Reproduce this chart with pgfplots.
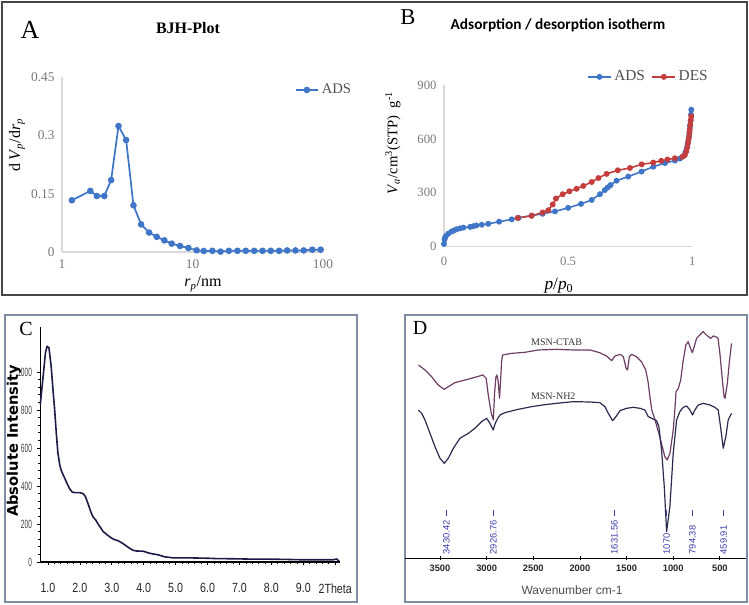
\documentclass[border=0pt]{standalone}
\usepackage{fontspec}
\setmainfont{Liberation Serif}
\newfontfamily\arial{Liberation Sans}
\newfontfamily\carlito{Carlito}
\newfontfamily\dejavu{DejaVu Sans}
\usepackage{graphicx}
\usepackage{pgfplots}
\pgfplotsset{compat=1.18}
\definecolor{xlblue}{RGB}{64,118,200}
\definecolor{xlred}{RGB}{196,62,62}
\definecolor{axgray}{RGB}{217,217,217}
\definecolor{tkgray}{RGB}{120,120,120}
\definecolor{lgtext}{RGB}{80,80,80}
\definecolor{navy}{RGB}{28,28,72}
\definecolor{ctab}{RGB}{108,62,100}
\definecolor{nh2}{RGB}{42,42,78}
\definecolor{boxgray}{RGB}{70,70,70}
\definecolor{boxblue}{RGB}{125,142,162}
\definecolor{pkblue}{RGB}{60,60,170}
\begin{document}
\begin{tikzpicture}[x=0.75pt,y=0.75pt]
\useasboundingbox (0,0) rectangle (749,604);
% frames
\draw[boxgray, line width=1.1pt] (2,602) rectangle (747,309);
\draw[boxblue, line width=1.1pt] (5,289) rectangle (357,2);
\draw[boxblue, line width=1.1pt] (405,289) rectangle (747,2);

% ---------------- Panel A ----------------
\begin{axis}[at={(46.5pt,264pt)}, anchor=south west, scale only axis,
  width=195.75pt, height=131.25pt,
  xmode=log, xmin=1, xmax=100, ymin=0, ymax=0.45,
  axis x line=bottom, axis y line=left,
  axis line style={-, draw=axgray, line width=0.8pt},
  xtick={1,10,100}, xticklabels={1,10,100},
  ytick={0,0.15,0.3,0.45}, yticklabels={0,0.15,0.3,0.45},
  xminorticks=false, yminorticks=false, tick style={draw=none},
  ticklabel style={font=\fontsize{10}{11}\selectfont, text=tkgray},
  /pgf/number format/assume math mode=true,
  clip=false,
  legend style={at={(0.875,0.926)}, anchor=west, draw=none, fill=none,
    font=\fontsize{11}{12}\selectfont, text=lgtext},
  legend cell align=left,
]
\addplot[xlblue, line width=1.3pt, mark=*, mark size=1.8pt] coordinates {
(1.19,0.133) (1.65,0.157) (1.85,0.144) (2.11,0.144) (2.38,0.185)
(2.71,0.324) (3.10,0.288) (3.53,0.120) (4.04,0.071) (4.65,0.050)
(5.32,0.039) (6.09,0.030) (6.93,0.0215) (8.02,0.0155) (9.29,0.0103)
(10.76,0.0043) (12.2,0.0026) (14.2,0.003) (16.4,0.001) (19.0,0.003)
(22.1,0.003) (25.6,0.003) (29.7,0.003) (34.4,0.003) (39.8,0.003)
(46.1,0.003) (53.1,0.004) (61.5,0.004) (71.2,0.004) (82.8,0.006) (95.9,0.006)
};
\legend{ADS}
\end{axis}
\node[font=\fontsize{19.5}{20}\selectfont] at (30,574) {A};
\node[font=\bfseries\fontsize{12}{14}\selectfont] at (188,576) {BJH-Plot};
\node[rotate=90, font=\fontsize{12}{14}\selectfont] at (17,459) {d\,\textit{V}\textsubscript{\textit{p}}/d\textit{r}\textsubscript{\textit{p}}};
\node[font=\fontsize{12}{14}\selectfont] at (203,320) {\textit{r}\textsubscript{\textit{p}}/nm};

% ---------------- Panel B ----------------
\begin{axis}[at={(333pt,268pt)}, anchor=south west, scale only axis,
  width=186.2pt, height=121.3pt,
  xmin=0, xmax=1, ymin=0, ymax=900,
  axis x line=bottom, axis y line=left,
  axis line style={-, draw=axgray, line width=0.8pt},
  xtick={0,0.5,1}, xticklabels={0,0.5,1},
  ytick={0,300,600,900}, yticklabels={0,300,600,900},
  tick style={draw=none},
  ticklabel style={font=\fontsize{9.5}{11}\selectfont, text=tkgray},
  xticklabel style={yshift=-2pt},
  /pgf/number format/assume math mode=true,
  clip=false,
  legend style={at={(0.56,1.05)}, anchor=west, draw=none, fill=none,
    font=\fontsize{11.5}{12}\selectfont, text=lgtext},
  legend columns=2,
  /tikz/every even column/.append style={column sep=3pt},
]
\addplot[xlblue, line width=1.2pt, mark=*, mark size=1.6pt] coordinates {
(0.000,15) (0.002,40) (0.004,50) (0.008,60) (0.017,72) (0.030,84) (0.040,90)
(0.051,97) (0.065,102) (0.078,106) (0.105,110) (0.118,114) (0.130,118)
(0.152,122) (0.178,127) (0.222,139) (0.273,152) (0.300,160) (0.353,173)
(0.397,183) (0.447,196) (0.500,216) (0.552,238) (0.595,260) (0.628,292)
(0.648,315) (0.660,330) (0.671,343) (0.695,367) (0.742,390) (0.796,418)
(0.843,445) (0.890,465) (0.930,479) (0.950,490) (0.965,505) (0.972,525)
(0.977,545) (0.981,570) (0.984,590) (0.987,615) (0.989,640) (0.991,670)
(0.993,700) (0.995,735) (0.996,762)
};
\addplot[xlred, line width=1.2pt, mark=*, mark size=1.6pt] coordinates {
(0.996,725) (0.994,705) (0.992,680) (0.990,655) (0.988,630) (0.986,605)
(0.983,580) (0.980,555) (0.976,530) (0.970,510) (0.960,500) (0.930,492)
(0.900,485) (0.875,478) (0.843,468) (0.796,458) (0.749,438) (0.700,425)
(0.655,405) (0.622,382) (0.595,360) (0.561,338) (0.534,322) (0.505,308)
(0.478,292) (0.451,268) (0.438,235) (0.420,203) (0.397,190) (0.353,172)
(0.297,160)
};
\legend{ADS,DES}
\end{axis}
\node[font=\fontsize{17}{18}\selectfont] at (408,587) {B};
\node[font=\carlito\bfseries\fontsize{11.5}{13}\selectfont] at (558,579) {Adsorption / desorption isotherm};
\node[rotate=90, font=\fontsize{11}{13}\selectfont] at (393,461) {\textit{V}\textsubscript{\textit{a}}/cm\textsuperscript{3}(STP)\enspace g\textsuperscript{-1}};
\node[font=\fontsize{13}{14}\selectfont] at (559,318) {\textit{p}/\textit{p}\textsubscript{0}};

% ---------------- Panel C ----------------
\begin{axis}[at={(30pt,31.5pt)}, anchor=south west, scale only axis,
  width=225pt, height=176.25pt,
  xmin=0.75, xmax=10.15, ymin=0, ymax=1237,
  axis x line=bottom, axis y line=left,
  axis line style={-, black},
  x axis line style={line width=1.4pt},
  y axis line style={line width=0.6pt},
  xtick={1,...,10},
  xticklabels={\scalebox{0.8}[1]{1.0},\scalebox{0.8}[1]{2.0},\scalebox{0.8}[1]{3.0},\scalebox{0.8}[1]{4.0},\scalebox{0.8}[1]{5.0},\scalebox{0.8}[1]{6.0},\scalebox{0.8}[1]{7.0},\scalebox{0.8}[1]{8.0},\scalebox{0.8}[1]{9.0},\scalebox{0.8}[1]{2Theta}},
  ytick={0,200,...,1000},
  yticklabels={\scalebox{0.55}[1]{0},\scalebox{0.55}[1]{200},\scalebox{0.55}[1]{400},\scalebox{0.55}[1]{600},\scalebox{0.55}[1]{800},\scalebox{0.55}[1]{1000}},
  minor x tick num=4, minor y tick num=4,
  tick align=outside, major tick length=2.5pt, minor tick length=1.5pt,
  tick style={black, line width=0.5pt},
  xticklabel style={font=\arial\fontsize{10}{11}\selectfont, text=black!85, yshift=-10pt},
  yticklabel style={font=\arial\fontsize{9}{10}\selectfont, text=black!75},
  clip=false,
]
\addplot[navy, line width=1.2pt, line join=round] coordinates {
(0.76,830) (0.85,980) (0.92,1100) (0.97,1135) (1.03,1128) (1.10,1030)
(1.16,900) (1.21,800) (1.26,680) (1.31,575) (1.37,510) (1.42,480)
(1.50,450) (1.58,420) (1.68,385) (1.76,368) (1.84,365) (2.00,365)
(2.10,360) (2.17,345) (2.26,305) (2.34,265) (2.41,238) (2.50,220)
(2.57,200) (2.66,178) (2.73,160) (2.84,145) (2.94,132) (3.05,120)
(3.20,112) (3.35,97) (3.45,85) (3.56,72) (3.66,62) (3.77,58) (3.98,57)
(4.14,48) (4.30,42) (4.45,38) (4.66,27) (4.92,22) (5.34,22) (5.97,20)
(6.28,18) (6.80,17) (7.43,15) (7.85,15) (8.37,14) (8.90,12) (9.42,12)
(9.94,12) (10.05,16) (10.12,4)
};
\end{axis}
\node[font=\fontsize{15}{16}\selectfont] at (26,275) {C};
\node[rotate=90, font=\dejavu\bfseries\fontsize{11}{13}\selectfont] at (14,163) {Absolute Intensity};

% ---------------- Panel D ----------------
\begin{axis}[at={(303.75pt,34.3pt)}, anchor=south west, scale only axis,
  width=255.75pt, height=178.7pt,
  x dir=reverse, xmin=220, xmax=3875, ymin=25, ymax=740,
  axis x line=bottom, axis y line=none,
  axis line style={-, line width=1pt, black},
  xtick={500,1000,...,3500},
  /pgf/number format/1000 sep={},
  /pgf/number format/assume math mode=true,
  tick align=center, major tick length=3pt, tick style={black, line width=0.6pt},
  xticklabel style={font=\arial\bfseries\fontsize{7}{8}\selectfont, text=black!85},
  clip=false,
]
\addplot[ctab, line width=0.9pt, line join=round] coordinates {
(3730,605) (3660,590) (3590,570) (3520,545) (3455,532) (3410,540) (3340,552)
(3230,560) (3125,568) (3040,575) (3005,565) (2980,510) (2950,460) (2928,440)
(2915,520) (2900,570) (2890,575) (2878,560) (2862,505) (2850,560) (2840,615)
(2830,635) (2730,640) (2590,643) (2450,650) (2250,652) (2070,650) (1890,650)
(1790,642) (1715,632) (1660,618) (1625,632) (1570,637) (1535,630) (1505,595)
(1490,590) (1470,630) (1445,637) (1395,630) (1340,615) (1295,590) (1270,555)
(1250,510) (1230,470) (1195,440) (1145,390) (1090,330) (1065,320) (1035,340)
(1000,410) (980,480) (970,525) (945,535) (920,560) (895,615) (865,665)
(840,675) (815,655) (795,642) (770,665) (750,685) (715,695) (680,705)
(645,695) (600,685) (570,692) (545,690) (520,685) (500,640) (470,550)
(455,510) (445,505) (420,550) (400,610) (375,670)
};
\addplot[nh2, line width=0.9pt, line join=round] coordinates {
(3732,470) (3696,460) (3661,440) (3607,400) (3554,360) (3500,325) (3454,310)
(3411,325) (3357,355) (3286,385) (3196,400) (3125,415) (3054,435) (3000,445)
(2965,430) (2930,410) (2905,432) (2880,445) (2857,455) (2804,462) (2661,472)
(2518,480) (2375,486) (2250,490) (2071,495) (1900,494) (1786,492) (1732,480)
(1696,460) (1650,438) (1614,450) (1571,468) (1500,475) (1429,478) (1357,475)
(1304,470) (1268,450) (1232,445) (1179,438) (1154,420) (1125,350) (1096,240)
(1071,105) (1036,180) (1000,340) (964,440) (929,465) (893,478) (857,482)
(821,470) (793,455) (768,470) (732,485) (679,490) (607,485) (554,478)
(518,470) (493,420) (464,355) (436,390) (411,440) (375,460)
};
\node[font=\fontsize{7.5}{8}\selectfont, text=black!80] at (axis cs:2250,672) {MSN-CTAB};
\node[font=\fontsize{7.5}{8}\selectfont, text=black!80] at (axis cs:2286,512) {MSN-NH2};
\foreach \v/\t in {3430.42/3430.42, 2926.76/2926.76, 1631.56/1631.56, 1070/1070, 794.38/794.38, 459.91/459.91}{
  \edef\temp{\noexpand\draw[pkblue, line width=0.5pt] (axis cs:\v,152) -- (axis cs:\v,170);}
  \temp
  \edef\temp{\noexpand\node[rotate=90, anchor=west, inner sep=0pt, font=\noexpand\arial\noexpand\fontsize{7}{8}\noexpand\selectfont, text=pkblue] at (axis cs:\v,36) {\t};}
  \temp
}
\end{axis}
\node[font=\fontsize{15}{16}\selectfont] at (420,276) {D};
\node[font=\arial\fontsize{9}{10}\selectfont, text=black!70] at (572,14) {Wavenumber cm-1};
\end{tikzpicture}
\end{document}
